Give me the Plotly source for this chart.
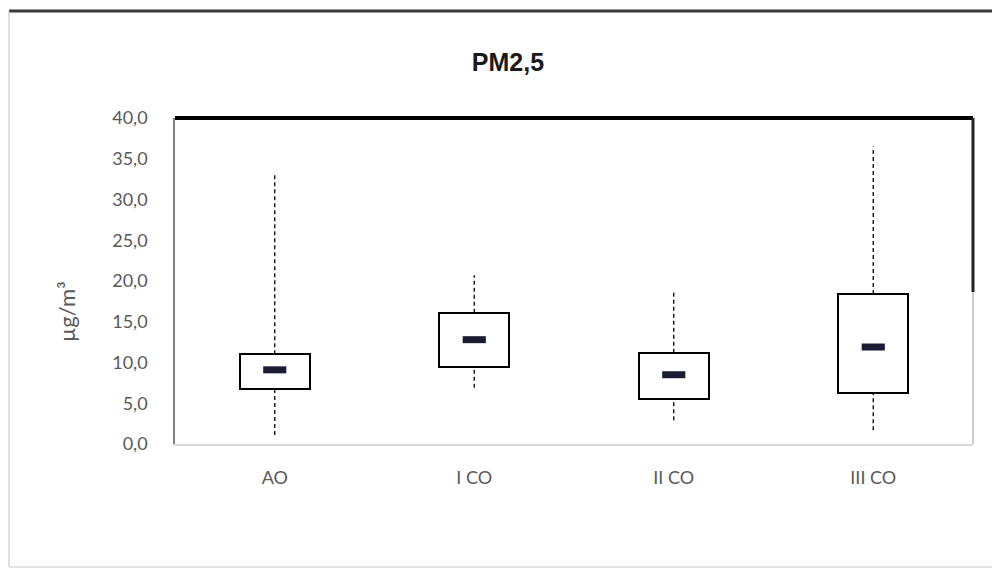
import plotly.graph_objects as go

# PM2,5 concentrations per sampling group (µg/m³)
categories = ["AO", "I CO", "II CO", "III CO"]
whisker_low = [1.1, 6.9, 2.9, 1.7]
q1 = [6.75, 9.4, 5.5, 6.3]
median = [9.1, 12.8, 8.5, 11.9]
q3 = [11.0, 16.1, 11.2, 18.4]
whisker_high = [33.0, 20.7, 18.6, 36.5]
y_ticks = [0, 5, 10, 15, 20, 25, 30, 35, 40]

positions = list(range(len(categories)))
box_width = 0.35
median_half = 0.058

fig = go.Figure()

# boxes: white fill from Q1 to Q3 with black outline
fig.add_trace(go.Bar(
    x=positions,
    y=[b - a for a, b in zip(q1, q3)],
    base=q1,
    width=box_width,
    marker=dict(color="white", line=dict(color="black", width=2)),
    showlegend=False,
    hoverinfo="skip",
))

# dashed whiskers
for p, lo, a, b, hi in zip(positions, whisker_low, q1, q3, whisker_high):
    fig.add_trace(go.Scatter(
        x=[p, p, None, p, p],
        y=[lo, a, None, b, hi],
        mode="lines",
        line=dict(color="black", width=1.3, dash="4px,3px"),
        showlegend=False,
        hoverinfo="skip",
    ))

# median markers
for p, m in zip(positions, median):
    fig.add_trace(go.Scatter(
        x=[p - median_half, p + median_half],
        y=[m, m],
        mode="lines",
        line=dict(color="#1b1b33", width=7),
        showlegend=False,
        hoverinfo="skip",
    ))

L, R, T, B = 175, 19, 118, 127
W, H = 992, 571
pw, ph = W - L - R, H - T - B


def px_x(px):
    return (px - L) / pw


def px_y(py):
    return (H - B - py) / ph


shapes = [
    # outer chart frame
    dict(type="line", xref="paper", yref="paper", x0=px_x(9), x1=px_x(995),
         y0=px_y(11), y1=px_y(11), line=dict(color="#3a3a3a", width=3)),
    dict(type="line", xref="paper", yref="paper", x0=px_x(9), x1=px_x(9),
         y0=px_y(11), y1=px_y(567), line=dict(color="#bdbdbd", width=1)),
    dict(type="line", xref="paper", yref="paper", x0=px_x(9), x1=px_x(995),
         y0=px_y(567), y1=px_y(567), line=dict(color="#e3e3e3", width=2)),
    # plot area border
    dict(type="line", xref="paper", yref="paper", x0=0, x1=1, y0=1, y1=1,
         line=dict(color="black", width=4)),
    dict(type="line", xref="paper", yref="paper", x0=1, x1=1,
         y0=1, y1=px_y(292), line=dict(color="#222222", width=3)),
    dict(type="line", xref="paper", yref="paper", x0=1, x1=1,
         y0=px_y(292), y1=0, line=dict(color="#9a9a9a", width=1)),
]

fig.update_layout(
    width=W,
    height=H,
    margin=dict(l=L, r=R, t=T, b=B),
    paper_bgcolor="white",
    plot_bgcolor="white",
    separators=",.",
    font=dict(family="Lato, 'Open Sans', sans-serif", color="#595959", size=18),
    title=dict(
        text="<b>PM2,5</b>",
        x=508 / W,
        xanchor="center",
        y=1 - 62 / H,
        yanchor="middle",
        font=dict(family="'Liberation Sans', Arial, sans-serif", size=25, color="#1a1a1a"),
    ),
    xaxis=dict(
        range=[-0.5, 3.5],
        tickvals=positions,
        ticktext=categories,
        showgrid=False,
        zeroline=False,
        showline=True,
        linecolor="#d9d9d9",
        linewidth=2,
        ticks="outside",
        ticklen=16,
        tickcolor="rgba(0,0,0,0)",
        tickfont=dict(size=18, color="#595959"),
    ),
    yaxis=dict(
        range=[0, 40],
        tickvals=y_ticks,
        tickformat=".1f",
        showgrid=False,
        zeroline=False,
        showline=True,
        linecolor="#7f7f7f",
        linewidth=1.5,
        ticks="outside",
        ticklen=22,
        tickcolor="rgba(0,0,0,0)",
        tickfont=dict(size=18, color="#595959"),
    ),
    shapes=shapes,
    annotations=[
        dict(
            text="µg/m³",
            xref="paper",
            yref="paper",
            x=px_x(66),
            y=px_y(312),
            xanchor="center",
            yanchor="middle",
            textangle=-90,
            showarrow=False,
            font=dict(size=22, color="#595959"),
        )
    ],
    bargap=0,
)

fig.write_html("out.html")
